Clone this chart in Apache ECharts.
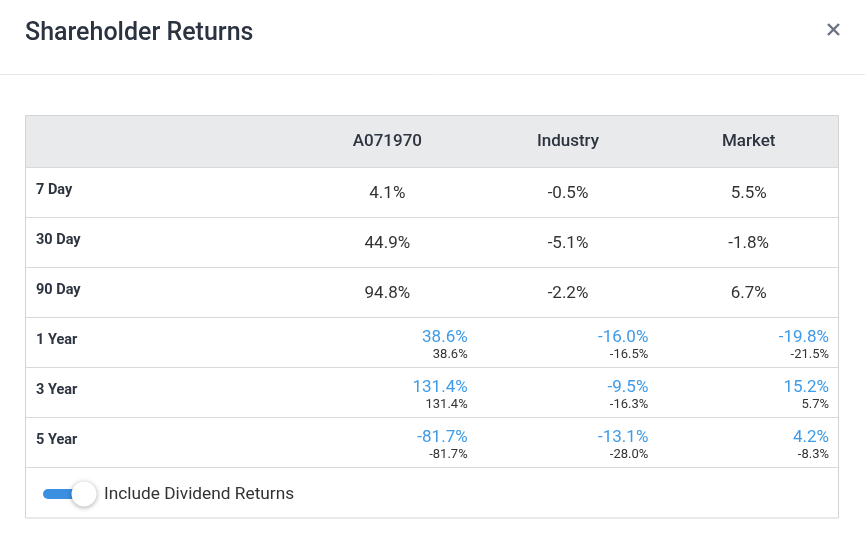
<!DOCTYPE html>
<html><head><meta charset="utf-8">
<script src="https://cdn.jsdelivr.net/npm/echarts@6/dist/echarts.min.js"></script>
<style>html,body{margin:0;padding:0;background:#fff}#c{width:865px;height:539px}</style>
</head><body><div id="c"></div>
<script>
const periods = ['7 Day', '30 Day', '90 Day', '1 Year', '3 Year', '5 Year'];
const entities = ['A071970', 'Industry', 'Market'];
const companyReturns = [4.1, 44.9, 94.8, 38.6, 131.4, -81.7];
const industryReturns = [-0.5, -5.1, -2.2, -16.0, -9.5, -13.1];
const marketReturns = [5.5, -1.8, 6.7, -19.8, 15.2, 4.2];
const companyPriceReturns = [null, null, null, 38.6, 131.4, -81.7];
const industryPriceReturns = [null, null, null, -16.5, -16.3, -28.0];
const marketPriceReturns = [null, null, null, -21.5, 5.7, -8.3];

const totals = [companyReturns, industryReturns, marketReturns];
const prices = [companyPriceReturns, industryPriceReturns, marketPriceReturns];
const cells = [];
totals.forEach((col, c) => col.forEach((v, r) => {
  cells.push({ value: [c, r, v], main: v, sub: prices[c][r] });
}));

const fmt = v => v.toFixed(1) + '%';
const FONT = 'Roboto, "Noto Sans", sans-serif';
const lineColor = '#d9d9d9';

function renderCell(params, api) {
  const item = cells[params.dataIndex];
  const p = api.coord([api.value(0), api.value(1)]);
  const s = api.size([1, 1]);
  if (item.sub == null) {
    return { type: 'text', style: { x: p[0], y: p[1] + 1.5, text: fmt(item.main), align: 'center', verticalAlign: 'middle', fontFamily: FONT, fontSize: 17, fill: '#333333' } };
  }
  const right = p[0] + s[0] / 2 - 10;
  const top = p[1] - s[1] / 2;
  return { type: 'group', children: [
    { type: 'text', style: { x: right, y: top + 21, text: fmt(item.main), align: 'right', verticalAlign: 'middle', fontFamily: FONT, fontSize: 17, fill: '#3d9be9' } },
    { type: 'text', style: { x: right, y: top + 38, text: fmt(item.sub), align: 'right', verticalAlign: 'middle', fontFamily: FONT, fontSize: 13, fill: '#333333' } }
  ] };
}

const chart = echarts.init(document.getElementById('c'));
chart.setOption({
  backgroundColor: '#ffffff',
  animation: false,
  grid: [
    { left: 25, top: 167, width: 272, height: 300 },
    { left: 297, top: 167, width: 542, height: 300 }
  ],
  xAxis: [
    { gridIndex: 0, type: 'category', data: [''], show: false },
    { gridIndex: 1, type: 'category', data: entities, position: 'top',
      axisLine: { show: false }, axisTick: { show: false }, splitLine: { show: false },
      axisLabel: { margin: 25.5, verticalAlign: 'middle', fontFamily: FONT, fontSize: 17, fontWeight: 500, color: '#2d3440' } }
  ],
  yAxis: [
    { gridIndex: 0, type: 'category', data: periods, inverse: true,
      axisLine: { show: false }, axisTick: { show: false },
      axisLabel: { inside: true, margin: 11, align: 'left', verticalAlign: 'bottom', lineHeight: 4, fontFamily: FONT, fontSize: 14.5, fontWeight: 'bold', color: '#2d3440' },
      splitLine: { show: true, lineStyle: { color: lineColor, width: 1 } } },
    { gridIndex: 1, type: 'category', data: periods, inverse: true,
      axisLine: { show: false }, axisTick: { show: false }, axisLabel: { show: false },
      splitLine: { show: true, lineStyle: { color: lineColor, width: 1 } } }
  ],
  series: [{
    type: 'custom', xAxisIndex: 1, yAxisIndex: 1, renderItem: renderCell,
    data: cells.map(d => d.value), silent: true
  }],
  graphic: [
    { type: 'text', left: 25, top: 21, style: { text: 'Shareholder Returns', fontFamily: FONT, fontSize: 25, fontWeight: 500, fill: '#2b3340' } },
    { type: 'line', shape: { x1: 828, y1: 24, x2: 839, y2: 35 }, style: { stroke: '#6b7280', lineWidth: 2.4 } },
    { type: 'line', shape: { x1: 839, y1: 24, x2: 828, y2: 35 }, style: { stroke: '#6b7280', lineWidth: 2.4 } },
    { type: 'line', shape: { x1: 0, y1: 74.5, x2: 865, y2: 74.5 }, style: { stroke: '#e8e8e8', lineWidth: 1 } },
    { type: 'rect', z: -10, shape: { x: 25.5, y: 115.5, width: 813, height: 51.5 }, style: { fill: '#e9eaec' } },
    { type: 'rect', z: 10, shape: { x: 25.5, y: 115.5, width: 813, height: 402.5 }, style: { fill: 'none', stroke: '#d4d4d4', lineWidth: 1 } },
    { type: 'rect', shape: { x: 43, y: 489, width: 46, height: 10, r: 5 }, style: { fill: '#3a8fe0' } },
    { type: 'circle', shape: { cx: 84, cy: 494, r: 12.5 }, style: { fill: '#ffffff', shadowBlur: 5, shadowColor: 'rgba(0,0,0,0.35)', shadowOffsetY: 1 } },
    { type: 'text', x: 104, y: 495, style: { text: 'Include Dividend Returns', verticalAlign: 'middle', fontFamily: FONT, fontSize: 17.3, fill: '#333333' } }
  ]
});
</script>
</body></html>
